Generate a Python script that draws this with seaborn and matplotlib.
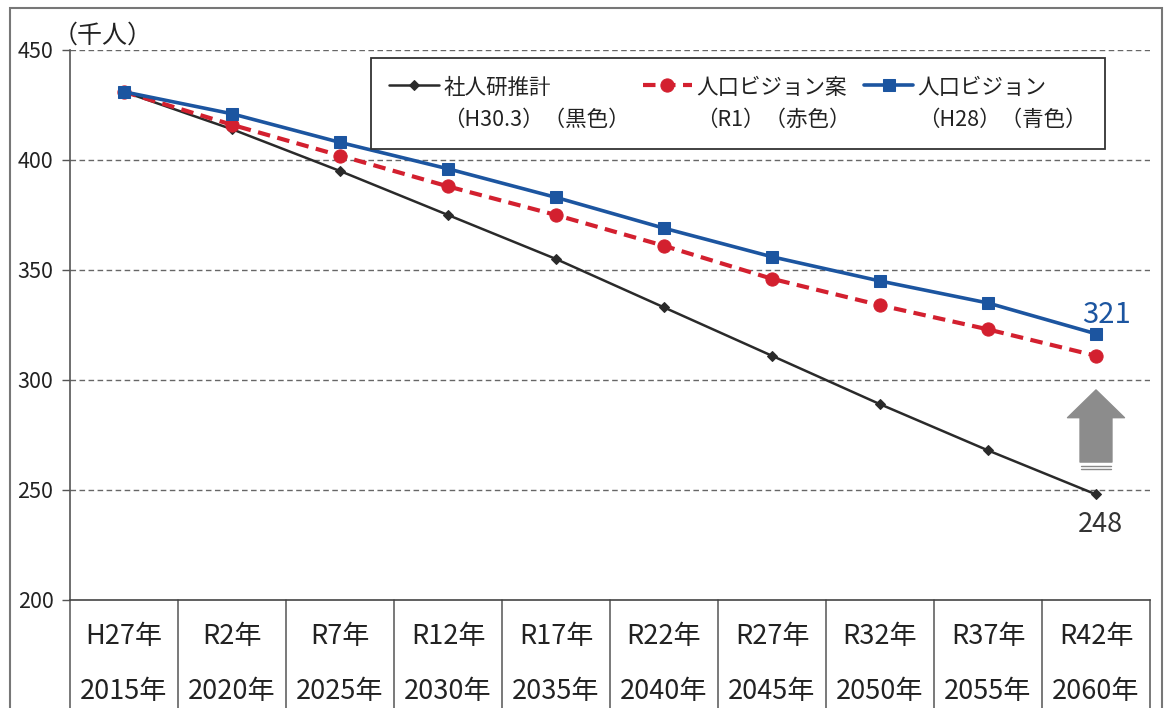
import numpy as np
import pandas as pd
import matplotlib
matplotlib.use("Agg")
import matplotlib.pyplot as plt
import seaborn as sns
from matplotlib.patches import FancyArrowPatch, Rectangle
from matplotlib.legend_handler import HandlerLine2D
import matplotlib.transforms as mtransforms

# ---- data ----
era_labels = ["H27年", "R2年", "R7年", "R12年", "R17年", "R22年", "R27年", "R32年", "R37年", "R42年"]
year_labels = ["2015年", "2020年", "2025年", "2030年", "2035年", "2040年", "2045年", "2050年", "2055年", "2060年"]
shajinken = [431, 414, 395, 375, 355, 333, 311, 289, 268, 248]      # 社人研推計 (black)
vision_draft = [431, 416, 402, 388, 375, 361, 346, 334, 323, 311]   # 人口ビジョン案 (red)
vision_h28 = [431, 421, 408, 396, 383, 369, 356, 345, 335, 321]     # 人口ビジョン (blue)
series_names = ["社人研推計\n（H30.3）（黒色）", "人口ビジョン案\n（R1）（赤色）", "人口ビジョン\n（H28）（青色）"]
y_ticks = [200, 250, 300, 350, 400, 450]

sns.set_theme(style="white")
plt.rcParams["font.family"] = ["Noto Sans CJK JP", "DejaVu Sans"]

pos = np.arange(len(era_labels))
df = pd.DataFrame({"pos": pos, "black": shajinken, "red": vision_draft, "blue": vision_h28})

fig = plt.figure(figsize=(11.66, 7.08), dpi=100)
fig.patch.set_facecolor("white")
ax = fig.add_axes([70 / 1166, 1 - 600 / 708, 1080 / 1166, 550 / 708])
ax.set_facecolor("white")

BLACK = "#2a2a2a"
RED = "#d3202f"
BLUE = "#1c55a0"

sns.lineplot(data=df, x="pos", y="black", ax=ax, color=BLACK, lw=1.8, marker="D",
             markersize=5.5, markeredgecolor=BLACK, label=series_names[0], zorder=3)
sns.lineplot(data=df, x="pos", y="red", ax=ax, color=RED, lw=3.0, linestyle=(0, (3, 1.8)),
             marker="o", markersize=9.5, markeredgecolor=RED, label=series_names[1], zorder=4)
sns.lineplot(data=df, x="pos", y="blue", ax=ax, color=BLUE, lw=2.6, marker="s",
             markersize=9, markeredgecolor=BLUE, label=series_names[2], zorder=5)

ax.set_xlim(-0.5, len(era_labels) - 0.5)
ax.set_ylim(200, 450)
ax.set_yticks(y_ticks)
ax.set_yticklabels([str(v) for v in y_ticks], fontsize=15.5, color="#222")
ax.set_xticks([])
ax.set_xlabel("")
ax.set_ylabel("")
ax.tick_params(axis="y", direction="out", length=6, width=1, color="#555", pad=6, left=True)

for v in y_ticks[1:]:
    ax.axhline(v, color="#666", lw=1.0, linestyle=(0, (4, 2.5)), zorder=1)

for side in ["top", "right"]:
    ax.spines[side].set_visible(False)
ax.spines["left"].set_color("#555")
ax.spines["left"].set_linewidth(1.2)
ax.spines["bottom"].set_color("#444")
ax.spines["bottom"].set_linewidth(1.2)

# table below the axis
trans = mtransforms.blended_transform_factory(ax.transData, ax.transAxes)
for b in np.arange(len(era_labels) + 1) - 0.5:
    ax.plot([b, b], [0, -0.4], transform=trans, color="#555", lw=1.1, clip_on=False)
for i, (e, y) in enumerate(zip(era_labels, year_labels)):
    ax.text(pos[i], -0.067, e, transform=trans, ha="center", va="center", fontsize=19.5, color="#222")
    ax.text(pos[i], -0.167, y, transform=trans, ha="center", va="center", fontsize=19.5, color="#222")

# unit label
ax.text(-0.016, 1.027, "（千人）", transform=ax.transAxes, ha="left", va="center", fontsize=18, color="#222")

# value labels
ax.annotate(str(vision_h28[-1]), xy=(pos[-1], vision_h28[-1]), xytext=(11, 19),
            textcoords="offset pixels", ha="center", va="center", fontsize=21, color=BLUE)
ax.annotate(str(shajinken[-1]), xy=(pos[-1], shajinken[-1]), xytext=(4, -30),
            textcoords="offset pixels", ha="center", va="center", fontsize=19.5, color="#333")

# gray up arrow
arr = FancyArrowPatch((pos[-1], 262.7), (pos[-1], 295.5),
                      arrowstyle="simple,head_length=20,head_width=41,tail_width=23",
                      mutation_scale=1, color="#8c8c8c", shrinkA=0, shrinkB=0, zorder=2)
ax.add_patch(arr)
for yy in (261.0, 259.6):
    ax.plot([pos[-1] - 0.14, pos[-1] + 0.14], [yy, yy], color="#888", lw=1.0, zorder=2)


class TopLineHandler(HandlerLine2D):
    def create_artists(self, legend, orig_handle, xdescent, ydescent, width, height, fontsize, trans):
        arts = super().create_artists(legend, orig_handle, xdescent, ydescent, width, height, fontsize, trans)
        for a in arts:
            a.set_ydata(np.asarray(a.get_ydata(), dtype=float) + 0.9 * fontsize)
        return arts


# legend
handles, labels = ax.get_legend_handles_labels()
leg = ax.legend(handles, labels, ncol=3, loc="upper right", bbox_to_anchor=(0.958, 0.985),
                frameon=True, fancybox=False, fontsize=15.5, handlelength=2.3, handletextpad=0.2,
                columnspacing=0.6, borderpad=0.85, labelspacing=0.2, borderaxespad=0,
                framealpha=1.0, handler_map={h: TopLineHandler() for h in handles})
leg.get_frame().set_edgecolor("#333")
leg.get_frame().set_linewidth(1.3)
leg.set_zorder(6)
for t in leg.get_texts():
    t.set_color("#222")
    t.set_multialignment("left")
    t.set_linespacing(1.6)

# outer frame
fig.patches.append(Rectangle((10 / 1166, -0.05), 1152 / 1166, 1.05 - 8 / 708,
                             transform=fig.transFigure, fill=False, edgecolor="#777", lw=1.5))

fig.savefig("out.png", dpi=100)
